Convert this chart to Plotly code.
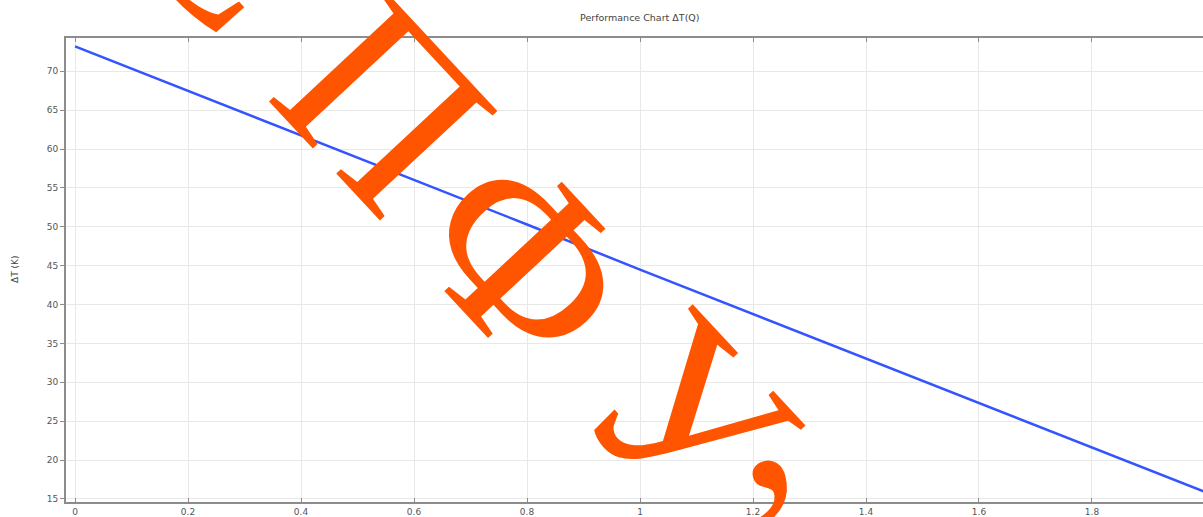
import plotly.graph_objects as go

# Performance curve: temperature difference vs. heat load
q_values = [0.0, 0.2, 0.4, 0.6, 0.8, 1.0, 1.2, 1.4, 1.6, 1.8, 2.0]
dt_values = [73.2, 67.5, 61.8, 56.1, 50.3, 44.5, 38.8, 33.1, 27.3, 21.6, 15.9]

x_ticks = [0, 0.2, 0.4, 0.6, 0.8, 1, 1.2, 1.4, 1.6, 1.8]
x_tick_text = ["0", "0.2", "0.4", "0.6", "0.8", "1", "1.2", "1.4", "1.6", "1.8"]
y_ticks = [15, 20, 25, 30, 35, 40, 45, 50, 55, 60, 65, 70]

title_text = "Performance Chart ΔT(Q)"
y_title = "ΔT (K)"

# Watermark glyphs: character, centre (page pixels), rotation
stamp_chars = ["С", "П", "Ф", "У", ","]
stamp_px = [(226, -70), (385, 104), (527, 258), (690, 415), (750, 405)]
stamp_angle = [47, 47, 47, 47, -15]

W, H = 1203, 517
M_L, M_R, M_T, M_B = 66, 0, 38, 15
plot_w = W - M_L - M_R
plot_h = H - M_T - M_B

AXIS_COLOR = "#8c8c8c"
GRID_COLOR = "#e8e8e8"
TEXT_COLOR = "#555555"
FONT = "DejaVu Sans"

fig = go.Figure()
fig.add_trace(go.Scatter(
    x=q_values, y=dt_values, mode="lines",
    line=dict(color="#3354ff", width=2.5),
    showlegend=False, hoverinfo="skip",
))


def to_paper(px, py):
    return (px - M_L) / plot_w, (H - M_B - py) / plot_h


annotations = []
for ch, (px, py), ang in zip(stamp_chars, stamp_px, stamp_angle):
    ax, ay = to_paper(px, py)
    annotations.append(dict(
        text=ch, x=ax, y=ay, xref="paper", yref="paper",
        xanchor="center", yanchor="middle", showarrow=False,
        textangle=ang,
        font=dict(family="Liberation Serif", size=245, color="#ff5500"),
    ))

tx, ty = to_paper(640, 18)
annotations.append(dict(
    text=title_text, x=tx, y=ty, xref="paper", yref="paper",
    xanchor="center", yanchor="middle", showarrow=False,
    font=dict(family=FONT, size=9.5, color="#444444"),
))
lx, ly = to_paper(15, 270)
annotations.append(dict(
    text=y_title, x=lx, y=ly, xref="paper", yref="paper",
    xanchor="center", yanchor="middle", showarrow=False, textangle=-90,
    font=dict(family=FONT, size=9, color="#444444"),
))

fig.update_layout(
    width=W, height=H,
    margin=dict(l=M_L, r=M_R, t=M_T, b=M_B, pad=0),
    paper_bgcolor="white", plot_bgcolor="white",
    font=dict(family=FONT, size=9, color=TEXT_COLOR),
    annotations=annotations,
)
fig.update_xaxes(
    range=[-0.016, 1.9965], tickvals=x_ticks, ticktext=x_tick_text,
    showgrid=True, gridcolor=GRID_COLOR, gridwidth=1,
    showline=True, linecolor=AXIS_COLOR, linewidth=2, mirror="ticks",
    ticks="inside", ticklen=4, tickcolor=AXIS_COLOR, tickwidth=1,
    zeroline=False, automargin=False, ticklabelstandoff=0,
)
fig.update_yaxes(
    range=[14.61, 74.28], tickvals=y_ticks,
    showgrid=True, gridcolor=GRID_COLOR, gridwidth=1,
    showline=True, linecolor=AXIS_COLOR, linewidth=2, mirror="ticks",
    ticks="outside", ticklen=4, tickcolor=AXIS_COLOR, tickwidth=1,
    zeroline=False, automargin=False,
)

fig.write_html("out.html", config={"displayModeBar": False})
